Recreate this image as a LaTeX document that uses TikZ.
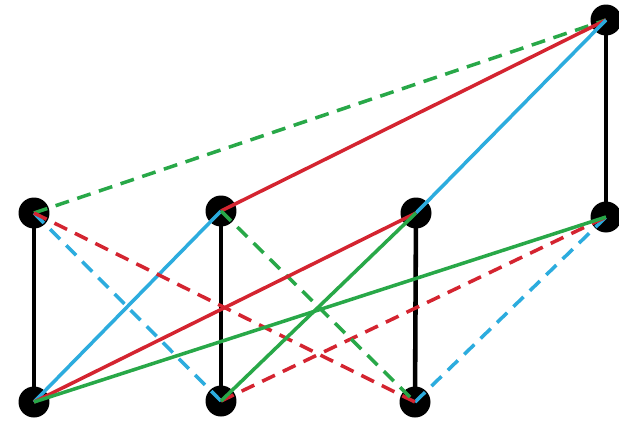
\documentclass[tikz,border=0pt]{standalone}
\usepackage{tikz}
\usetikzlibrary{calc}
\definecolor{lred}{RGB}{212,36,48}
\definecolor{lgreen}{RGB}{40,168,72}
\definecolor{lblue}{RGB}{44,172,222}
\begin{document}
\begin{tikzpicture}[x=0.02cm,y=-0.02cm,
dot/.style={circle,fill=black,inner sep=0pt,minimum size=0.62cm},
post/.style={line width=2.6pt,black},
link/.style={line width=2pt},
dashlink/.style={line width=2pt,dash pattern=on 8pt off 5pt}]
\useasboundingbox[fill=white](0,0)rectangle(619,423);
\node[dot](a)at(34,213){};
\node[dot](b)at(221,211){};
\node[dot](c)at(416,213){};
\node[dot](d)at(606,217){};
\node[dot](e)at(606,20){};
\node[dot](p)at(34,402){};
\node[dot](q)at(221,401){};
\node[dot](r)at(415,402){};
\draw[post](a.center)--(p.center);\draw[post](b.center)--(q.center);
\draw[post](c.center)--(r.center);\draw[post](e.center)--(d.center);
\draw[dashlink,lgreen](a.center)--(e.center);
\draw[link,lred](b.center)--(e.center);
\draw[link,lblue](c.center)--(e.center);\draw[link,lblue](p.center)--(b.center);
\draw[dashlink,lblue](a.center)--(q.center);\draw[dashlink,lblue](r.center)--(d.center);
\draw[dashlink,lred](a.center)--(r.center);\draw[dashlink,lred](q.center)--(d.center);
\draw[dashlink,lgreen](b.center)--(r.center);
\draw[link,lred](p.center)--(c.center);
\draw[link,lgreen](p.center)--(d.center);\draw[link,lgreen](q.center)--(c.center);
\end{tikzpicture}
\end{document}
